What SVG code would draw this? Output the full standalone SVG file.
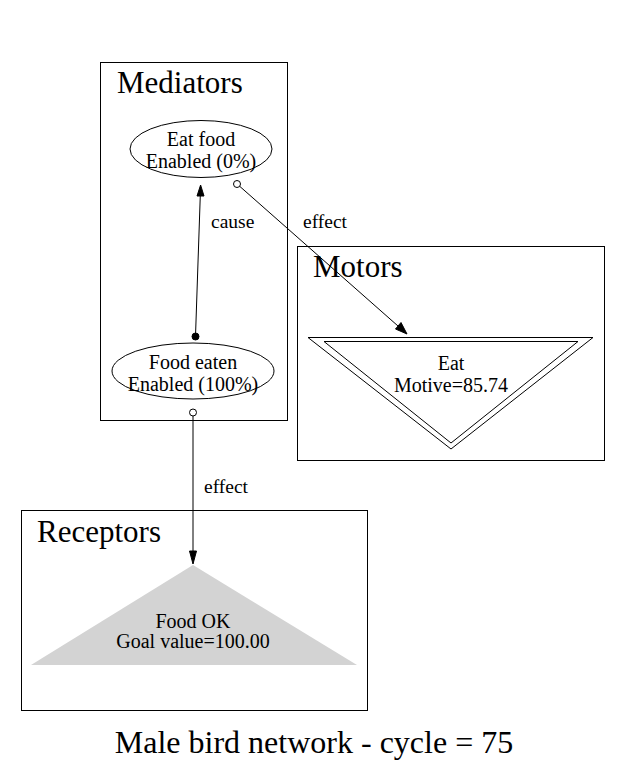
<svg xmlns="http://www.w3.org/2000/svg" width="623" height="774" viewBox="0 0 623 774">
  <style>
    .cluster { fill: none; stroke: #000; stroke-width: 1; }
    .ctitle { font-family: "Liberation Serif", "Times New Roman", serif; font-size: 31px; fill: #000; }
    .lbl { font-family: "Liberation Serif", "Times New Roman", serif; font-size: 20px; fill: #000; text-anchor: middle; }
    .elbl { font-family: "Liberation Serif", "Times New Roman", serif; font-size: 19.5px; fill: #000; }
    .title { font-family: "Liberation Serif", "Times New Roman", serif; font-size: 32px; fill: #000; text-anchor: middle; }
    .shape { fill: none; stroke: #000; stroke-width: 1; }
    .edge { fill: none; stroke: #000; stroke-width: 1; }
    .head { fill: #000; stroke: #000; stroke-width: 1; }
    .odot { fill: #fff; stroke: #000; stroke-width: 1; }
  </style>
  <rect width="623" height="774" fill="#fff"/>

  <!-- clusters -->
  <g id="cluster_mediators">
    <rect class="cluster" x="100.5" y="62.5" width="187" height="358"/>
    <text class="ctitle" x="117" y="93">Mediators</text>
  </g>
  <g id="cluster_motors">
    <rect class="cluster" x="297.5" y="246.5" width="307" height="214"/>
    <text class="ctitle" x="313" y="277">Motors</text>
  </g>
  <g id="cluster_receptors">
    <rect class="cluster" x="21.5" y="510.5" width="346" height="200"/>
    <text class="ctitle" x="37" y="542">Receptors</text>
  </g>

  <!-- nodes -->
  <g id="node_eat_food">
    <ellipse class="shape" cx="201" cy="149" rx="71" ry="28.5"/>
    <text class="lbl" x="201" y="146">Eat food</text>
    <text class="lbl" x="201" y="168">Enabled (0%)</text>
  </g>
  <g id="node_food_eaten">
    <ellipse class="shape" cx="193" cy="371" rx="81" ry="28"/>
    <text class="lbl" x="193" y="369">Food eaten</text>
    <text class="lbl" x="193" y="391">Enabled (100%)</text>
  </g>
  <g id="node_eat">
    <polygon class="shape" points="308,337.5 593,337.5 451,449"/>
    <polygon class="shape" points="324,341.5 578,341.5 451,443"/>
    <text class="lbl" x="451" y="370">Eat</text>
    <text class="lbl" x="451" y="392">Motive=85.74</text>
  </g>
  <g id="node_food_ok">
    <polygon points="193,565 357,665 31,665" fill="#d3d3d3"/>
    <text class="lbl" x="193" y="628">Food OK</text>
    <text class="lbl" x="193" y="648">Goal value=100.00</text>
  </g>

  <!-- connectors -->
  <g id="edges">
    <!-- Food eaten causes Eat food -->
    <line class="edge" x1="195.5" y1="336" x2="200.3" y2="195"/>
    <polygon class="head" points="200.6,185 204,196 197,196"/>
    <circle class="head" cx="195.5" cy="336.5" r="3.5"/>
    <text class="elbl" x="211" y="228">cause</text>

    <!-- Eat food effect on Eat -->
    <circle class="odot" cx="237" cy="184" r="3.5"/>
    <line class="edge" x1="239.7" y1="186.3" x2="398" y2="326"/>
    <polygon class="head" points="407,334 395.5,329 401,322.5"/>
    <text class="elbl" x="303" y="228">effect</text>

    <!-- Food eaten effect on Food OK -->
    <circle class="odot" cx="193" cy="412.5" r="3.5"/>
    <line class="edge" x1="193" y1="416" x2="193" y2="552"/>
    <polygon class="head" points="193,564 189.5,551 196.5,551"/>
    <text class="elbl" x="204" y="493">effect</text>
  </g>

  <text class="title" x="314" y="753">Male bird network - cycle = 75</text>
</svg>
